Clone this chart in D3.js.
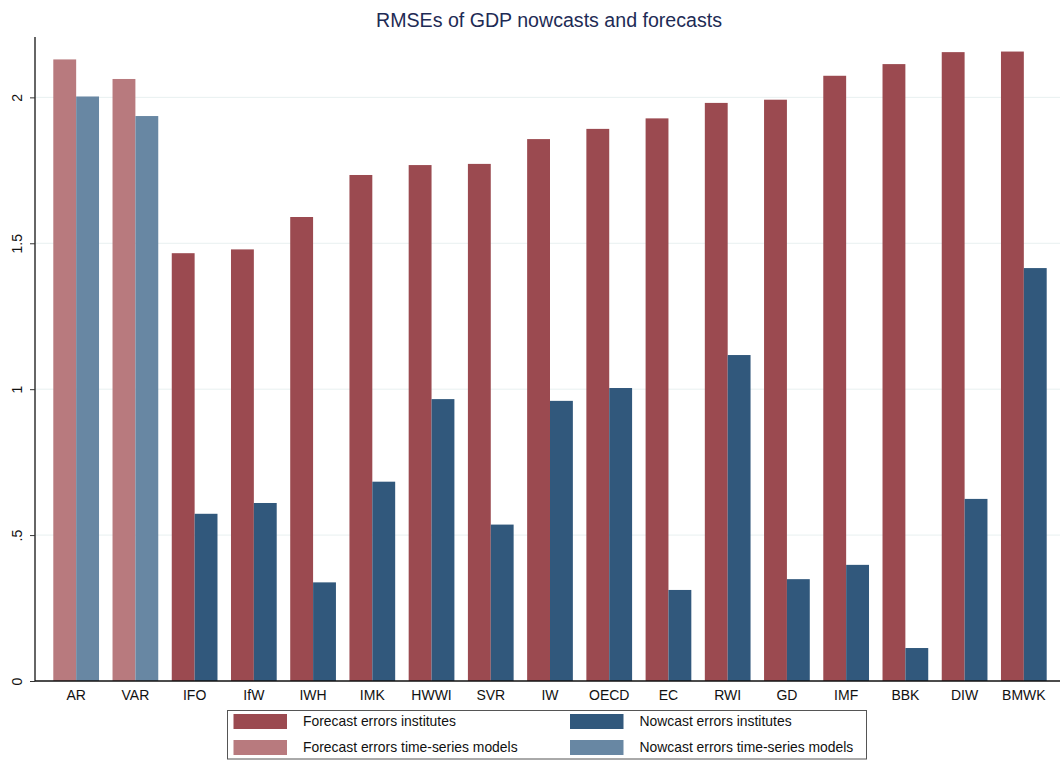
<!DOCTYPE html>
<html>
<head>
<meta charset="utf-8">
<script src="https://cdn.jsdelivr.net/npm/d3@7"></script>
<style>
  html, body { margin: 0; padding: 0; background: #fff; }
  svg { display: block; font-family: "Liberation Sans", Arial, Helvetica, sans-serif; }
</style>
</head>
<body>
<svg id="chart" width="1060" height="760"></svg>
<script>
// ---- data ----
const categories = ["AR","VAR","IFO","IfW","IWH","IMK","HWWI","SVR","IW","OECD","EC","RWI","GD","IMF","BBK","DIW","BMWK"];
const modelCategories = ["AR","VAR"];
const forecastErrors = [2.130,2.063,1.466,1.479,1.590,1.734,1.768,1.772,1.857,1.892,1.928,1.981,1.992,2.074,2.114,2.155,2.157];
const nowcastErrors  = [2.003,1.936,0.573,0.610,0.338,0.683,0.966,0.536,0.960,1.004,0.312,1.117,0.349,0.398,0.113,0.624,1.415];
const yTickValues = [0, 0.5, 1, 1.5, 2];
const yTickLabels = ["0", ".5", "1", "1.5", "2"];
const legendLabels = ["Forecast errors institutes","Nowcast errors institutes","Forecast errors time-series models","Nowcast errors time-series models"];
const titleText = "RMSEs of GDP nowcasts and forecasts";

(function () {
// ---- styles ----
const colors = {
  forecastInst: "#9b4a50",
  nowcastInst: "#31587c",
  forecastModel: "#b87a7e",
  nowcastModel: "#6887a3"
};

const svg = d3.select("#chart");
const pLeft = 35, pRight = 1065, pBottom = 681, pTop = 39;

const x = d3.scaleBand().domain(categories).range([pLeft, pRight]).paddingInner(0.228).paddingOuter(0.309);
const sub = d3.scaleBand().domain(["forecast","nowcast"]).range([0, x.bandwidth()]).padding(0);
const y = d3.scaleLinear().domain([0, 2.2]).range([pBottom, pTop]);

// title
svg.append("text")
  .attr("x", 549).attr("y", 27)
  .attr("text-anchor", "middle")
  .attr("font-size", 19.6)
  .attr("fill", "#1e2b55")
  .text(titleText);

// gridlines
svg.append("g").selectAll("line")
  .data(yTickValues.filter(v => v > 0))
  .join("line")
  .attr("x1", pLeft).attr("x2", 1060)
  .attr("y1", d => y(d)).attr("y2", d => y(d))
  .attr("stroke", "#e8f0f0").attr("stroke-width", 1);

// bars
const rows = categories.map((c, i) => ({
  cat: c,
  isModel: modelCategories.includes(c),
  forecast: forecastErrors[i],
  nowcast: nowcastErrors[i]
}));

const groups = svg.append("g").selectAll("g")
  .data(rows).join("g")
  .attr("transform", d => `translate(${x(d.cat)},0)`);

groups.append("rect")
  .attr("x", sub("forecast")).attr("width", sub.bandwidth())
  .attr("y", d => y(d.forecast)).attr("height", d => y(0) - y(d.forecast))
  .attr("fill", d => d.isModel ? colors.forecastModel : colors.forecastInst);

groups.append("rect")
  .attr("x", sub("nowcast")).attr("width", sub.bandwidth())
  .attr("y", d => y(d.nowcast)).attr("height", d => y(0) - y(d.nowcast))
  .attr("fill", d => d.isModel ? colors.nowcastModel : colors.nowcastInst);

// y axis
const yAxis = d3.axisLeft(y)
  .tickValues(yTickValues)
  .tickFormat((d, i) => yTickLabels[i])
  .tickSize(5).tickPadding(5);
const gy = svg.append("g").attr("transform", `translate(${pLeft},0)`).call(yAxis);
gy.select(".domain").attr("d", `M0,${pTop - 2}V${pBottom}`).attr("stroke", "#333").attr("stroke-width", 1.5);
gy.selectAll(".tick line").attr("stroke", "#333");
gy.selectAll(".tick text")
  .attr("font-size", 14).attr("fill", "#111")
  .attr("font-family", "Liberation Sans, Arial, sans-serif")
  .attr("transform", "rotate(-90)")
  .attr("x", 0).attr("y", -13)
  .attr("dy", 0)
  .attr("text-anchor", "middle");

// x axis
const xAxis = d3.axisBottom(x).tickSize(0).tickPadding(9);
const gx = svg.append("g").attr("transform", `translate(0,${pBottom})`).call(xAxis);
gx.select(".domain").attr("d", `M${pLeft},0H1060`).attr("stroke", "#111").attr("stroke-width", 1.5);
gx.selectAll(".tick text")
  .attr("font-size", 14).attr("fill", "#111")
  .attr("font-family", "Liberation Sans, Arial, sans-serif");

// legend
const lg = svg.append("g");
lg.append("rect")
  .attr("x", 227.5).attr("y", 710.5).attr("width", 639).attr("height", 48.5)
  .attr("fill", "#fff").attr("stroke", "#555").attr("stroke-width", 1);
const legendColors = [colors.forecastInst, colors.nowcastInst, colors.forecastModel, colors.nowcastModel];
const legendItems = legendLabels.map((l, i) => ({ label: l, color: legendColors[i], col: i % 2, row: Math.floor(i / 2) }));
const colX = [233.5, 570];
const rowY = [714, 740];
const li = lg.selectAll("g.item").data(legendItems).join("g").attr("class", "item")
  .attr("transform", d => `translate(${colX[d.col]},${rowY[d.row]})`);
li.append("rect").attr("width", 53.5).attr("height", 15).attr("fill", d => d.color);
li.append("text").attr("x", 69.5).attr("y", 12.3)
  .attr("font-size", 13.9).attr("fill", "#111").text(d => d.label);
})();
</script>
</body>
</html>
